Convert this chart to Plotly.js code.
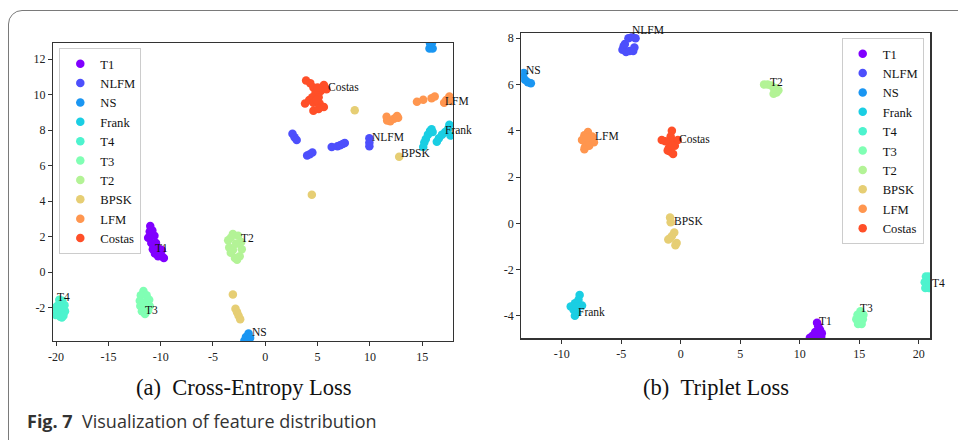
<!DOCTYPE html>
<html><head><meta charset="utf-8">
<script src="https://cdn.plot.ly/plotly-3.0.1.min.js"></script>
<style>
html,body{margin:0;padding:0;background:#fff;overflow:hidden;}
#frame{position:absolute;left:8px;top:10px;width:1100px;height:600px;border:1.5px solid #7a7a7a;border-radius:14px;box-sizing:border-box;}
#chart{position:absolute;left:0;top:0;width:958px;height:440px;}
</style></head>
<body><div id="frame"></div><div id="chart"></div>
<script>
// ---------- classes & colours ----------
const classes = ['T1','NLFM','NS','Frank','T4','T3','T2','BPSK','LFM','Costas'];
const colors  = ['#8000ff','#4d4ffc','#1a96f2','#1acee3','#4df3ce','#80ffb4','#b3f396','#e6ce74','#ff964f','#ff4f28'];

// ---------- (a) Cross-Entropy Loss ----------
const ceT1x = [-11.0,-10.8,-11.2,-10.6,-10.9,-10.45,-10.25,-10.75,-10.05,-10.55,-9.9,-9.7,-10.25,-9.9,-11.05];
const ceT1y = [2.6,2.35,1.95,2.05,1.65,1.65,1.35,1.3,1.15,1.05,0.9,0.8,0.9,1.25,2.3];
const ceNLFMx = [2.6,2.8,3.0,4.0,4.25,4.5,6.35,6.9,7.15,7.4,7.6,9.95,9.95,9.95];
const ceNLFMy = [7.8,7.6,7.45,6.58,6.65,6.75,7.05,7.1,7.15,7.22,7.28,7.55,7.3,7.1];
const ceNSx = [15.7,15.85,16.0,15.75,15.95,-1.6,-1.85,-1.45,-2.0,-1.65];
const ceNSy = [12.6,12.7,12.6,12.9,12.95,-3.45,-3.65,-3.7,-3.85,-3.9];
const ceFrankx = [15.1,15.2,15.35,15.55,15.75,16.0,16.4,16.6,16.9,17.2,17.5,17.7,17.6,15.9];
const ceFranky = [7.05,7.3,7.5,7.75,7.95,7.9,7.35,7.55,7.75,7.9,8.1,7.7,8.3,8.05];
const ceT4x = [-19.7,-19.4,-19.9,-19.2,-19.8,-19.15,-19.6,-19.3,-20.1,-20.05,-19.5,-19.45];
const ceT4y = [-1.55,-1.6,-1.9,-1.85,-2.2,-2.2,-2.5,-2.45,-2.0,-2.4,-2.0,-2.55];
const ceT3x = [-11.65,-11.9,-11.35,-12.0,-11.1,-11.95,-11.05,-11.8,-11.2,-11.5,-11.6,-11.3];
const ceT3y = [-1.05,-1.3,-1.3,-1.6,-1.55,-1.9,-1.9,-2.2,-2.15,-2.35,-1.7,-2.0];
const ceT2x = [-3.1,-2.6,-3.55,-2.3,-3.45,-2.25,-3.3,-2.45,-2.9,-2.8,-3.1,-2.7,-3.3];
const ceT2y = [2.15,2.05,1.8,1.7,1.4,1.3,1.1,0.9,0.8,1.6,1.25,0.7,1.95];
const ceBPSKx = [-3.1,-2.85,-2.7,-2.55,-2.4,4.45,8.55,12.8];
const ceBPSKy = [-1.25,-2.05,-2.25,-2.45,-2.65,4.37,9.12,6.5];
const ceLFMx = [11.6,11.65,11.95,12.3,12.6,12.7,14.5,15.1,15.9,16.2,17.1,17.3,17.6,17.85];
const ceLFMy = [8.75,8.55,8.5,8.65,8.8,8.7,9.6,9.72,9.8,9.9,9.55,9.7,9.9,9.65];
const ceCostasx = [3.9,4.3,4.6,5.6,5.85,5.3,4.8,4.5,5.1,3.8,4.2,4.6,5.2,5.6,4.6,5.1,4.9,5.0];
const ceCostasy = [10.8,10.65,10.4,10.55,10.3,10.2,10.1,9.85,9.85,9.5,9.7,9.55,9.5,9.3,9.1,9.2,9.7,10.4];
const ceLabelX = [-10.7,10.0,-1.46,17.0,-20.1,-11.72,-2.49,12.8,17.0,5.8];
const ceLabelY = [1.35,7.63,-3.34,7.99,-1.37,-2.12,1.95,6.69,9.67,10.44];

// ---------- (b) Triplet Loss ----------
const tlT1x = [11.45,11.55,11.7,11.3,11.85,11.1,10.85,11.5,11.8];
const tlT1y = [-4.3,-4.45,-4.6,-4.7,-4.75,-4.85,-4.95,-4.9,-4.9];
const tlNLFMx = [-4.8,-4.9,-4.6,-4.3,-4.0,-3.9,-4.7,-4.4,-4.1,-3.8];
const tlNLFMy = [7.65,7.5,7.4,7.45,7.45,7.6,7.75,8.0,8.05,8.0];
const tlNSx = [-13.2,-13.35,-13.1,-12.85,-12.6,-13.4];
const tlNSy = [6.5,6.3,6.2,6.1,6.05,6.45];
const tlFrankx = [-8.5,-8.6,-8.9,-9.25,-8.3,-9.0,-8.7,-8.9,-8.75];
const tlFranky = [-3.1,-3.3,-3.45,-3.6,-3.55,-3.75,-3.85,-4.0,-3.6];
const tlT4x = [20.6,20.85,20.5,20.9,20.55,20.85,21.05];
const tlT4y = [-2.3,-2.3,-2.55,-2.55,-2.8,-2.8,-2.45];
const tlT3x = [15.1,14.85,15.35,14.75,15.3,14.9,15.2,15.05];
const tlT3y = [-3.8,-3.95,-3.95,-4.15,-4.15,-4.35,-4.35,-4.1];
const tlT2x = [7.0,7.3,7.6,7.85,8.05,7.8,8.2,7.95];
const tlT2y = [6.0,6.0,5.95,5.8,5.65,5.6,5.75,5.85];
const tlBPSKx = [-0.9,-0.85,-0.55,-0.75,-1.05,-0.9,-0.35,-0.45];
const tlBPSKy = [0.25,0.05,-0.4,-0.55,-0.7,-0.65,-0.85,-0.95];
const tlLFMx = [-7.8,-8.1,-7.45,-8.3,-7.6,-8.0,-7.3,-8.05,-7.7,-7.9,-8.1];
const tlLFMy = [3.95,3.8,3.75,3.6,3.55,3.5,3.5,3.3,3.35,3.7,3.2];
const tlCostasx = [-0.75,-0.85,-1.6,-1.3,-1.0,-0.6,-0.25,-0.5,-1.0,-0.9,-0.65,-1.1,-0.7];
const tlCostasy = [4.0,3.75,3.6,3.55,3.5,3.55,3.6,3.35,3.25,3.1,3.0,3.15,3.35];
const tlLabelX = [11.43,-4.29,-13.17,-8.82,20.95,14.87,7.34,-0.72,-7.35,-0.29];
const tlLabelY = [-4.21,8.2,6.63,-3.84,-2.59,-3.66,6.1,0.12,3.79,3.66];

// ---------- axis ticks ----------
const ceXTicks = [-20,-15,-10,-5,0,5,10,15];
const ceXText  = ['-20','-15','-10','-5','0','5','10','15'];
const ceYTicks = [-2,0,2,4,6,8,10,12];
const ceYText  = ['-2','0','2','4','6','8','10','12'];
const tlXTicks = [-10,-5,0,5,10,15,20];
const tlXText  = ['-10','-5','0','5','10','15','20'];
const tlYTicks = [-4,-2,0,2,4,6,8];
const tlYText  = ['-4','-2','0','2','4','6','8'];

const captionA = '(a)\u00a0\u00a0Cross-Entropy Loss';
const captionB = '(b)\u00a0\u00a0Triplet Loss';
const figCaption = '<b>Fig. 7</b>\u00a0\u00a0Visualization of feature distribution';

// ---------- build ----------
const ceX = [ceT1x,ceNLFMx,ceNSx,ceFrankx,ceT4x,ceT3x,ceT2x,ceBPSKx,ceLFMx,ceCostasx];
const ceY = [ceT1y,ceNLFMy,ceNSy,ceFranky,ceT4y,ceT3y,ceT2y,ceBPSKy,ceLFMy,ceCostasy];
const tlX = [tlT1x,tlNLFMx,tlNSx,tlFrankx,tlT4x,tlT3x,tlT2x,tlBPSKx,tlLFMx,tlCostasx];
const tlY = [tlT1y,tlNLFMy,tlNSy,tlFranky,tlT4y,tlT3y,tlT2y,tlBPSKy,tlLFMy,tlCostasy];

const serif = '"Liberation Serif", "Times New Roman", serif';
const traces = [];
classes.forEach((c,i)=>{
  traces.push({type:'scatter',mode:'markers',name:c,x:ceX[i],y:ceY[i],xaxis:'x',yaxis:'y',
    legend:'legend',marker:{color:colors[i],size:8.5,line:{width:0}},hoverinfo:'skip'});
});
classes.forEach((c,i)=>{
  traces.push({type:'scatter',mode:'markers',name:c,x:tlX[i],y:tlY[i],xaxis:'x2',yaxis:'y2',
    legend:'legend2',marker:{color:colors[i],size:8.5,line:{width:0}},hoverinfo:'skip'});
});

const ann = [];
classes.forEach((c,i)=>{
  ann.push({xref:'x',yref:'y',x:ceLabelX[i],y:ceLabelY[i],text:c,showarrow:false,
    xanchor:'left',yanchor:'middle',font:{family:serif,size:11.5,color:'#111'}});
  ann.push({xref:'x2',yref:'y2',x:tlLabelX[i],y:tlLabelY[i],text:c,showarrow:false,
    xanchor:'left',yanchor:'middle',yshift:(c==='NLFM'?4:0),font:{family:serif,size:11.5,color:'#111'}});
});
ann.push({xref:'paper',yref:'paper',x:0.255,y:0.1182,text:captionA,showarrow:false,xanchor:'center',yanchor:'middle',
  font:{family:serif,size:22.5,color:'#111'}});
ann.push({xref:'paper',yref:'paper',x:0.7474,y:0.1182,text:captionB,showarrow:false,xanchor:'center',yanchor:'middle',
  font:{family:serif,size:22.5,color:'#111'}});
ann.push({xref:'paper',yref:'paper',x:0.0261,y:0.0439,text:figCaption,showarrow:false,xanchor:'left',yanchor:'middle',
  font:{family:'"Open Sans", sans-serif',size:18,color:'#333'}});

function axis(dom, rng, tv, tt, anchor){
  return {domain:dom,range:rng,anchor:anchor,showline:true,mirror:true,linecolor:'#333',linewidth:1.2,
    ticks:'outside',ticklen:4,tickwidth:1,tickcolor:'#333',showgrid:false,zeroline:false,
    tickmode:'array',tickvals:tv,ticktext:tt,tickfont:{family:serif,size:12,color:'#222'},fixedrange:true};
}
const legendStyle = {bordercolor:'#cccccc',borderwidth:1,bgcolor:'rgba(255,255,255,0.85)',
  font:{family:serif,size:12.6,color:'#111'},yanchor:'top'};

const layout = {
  width:958,height:440,margin:{l:0,r:0,t:0,b:0},
  font:{family:serif,color:'#111'},
  paper_bgcolor:'rgba(0,0,0,0)',plot_bgcolor:'#ffffff',
  showlegend:true,
  xaxis:axis([0.0553,0.4729],[-20.3,17.95],ceXTicks,ceXText,'y'),
  yaxis:axis([0.225,0.9023],[-3.87,12.91],ceYTicks,ceYText,'x'),
  xaxis2:axis([0.5442,0.9711],[-13.4,20.97],tlXTicks,tlXText,'y2'),
  yaxis2:axis([0.2311,0.9243],[-4.97,8.21],tlYTicks,tlYText,'x2'),
  legend:Object.assign({},legendStyle,{x:0.0619,y:0.8909,xanchor:'left'}),
  legend2:Object.assign({},legendStyle,{x:0.9642,y:0.9136,xanchor:'right'}),
  annotations:ann
};
Plotly.newPlot('chart',traces,layout,{staticPlot:true,displayModeBar:false});
</script>
</body></html>
